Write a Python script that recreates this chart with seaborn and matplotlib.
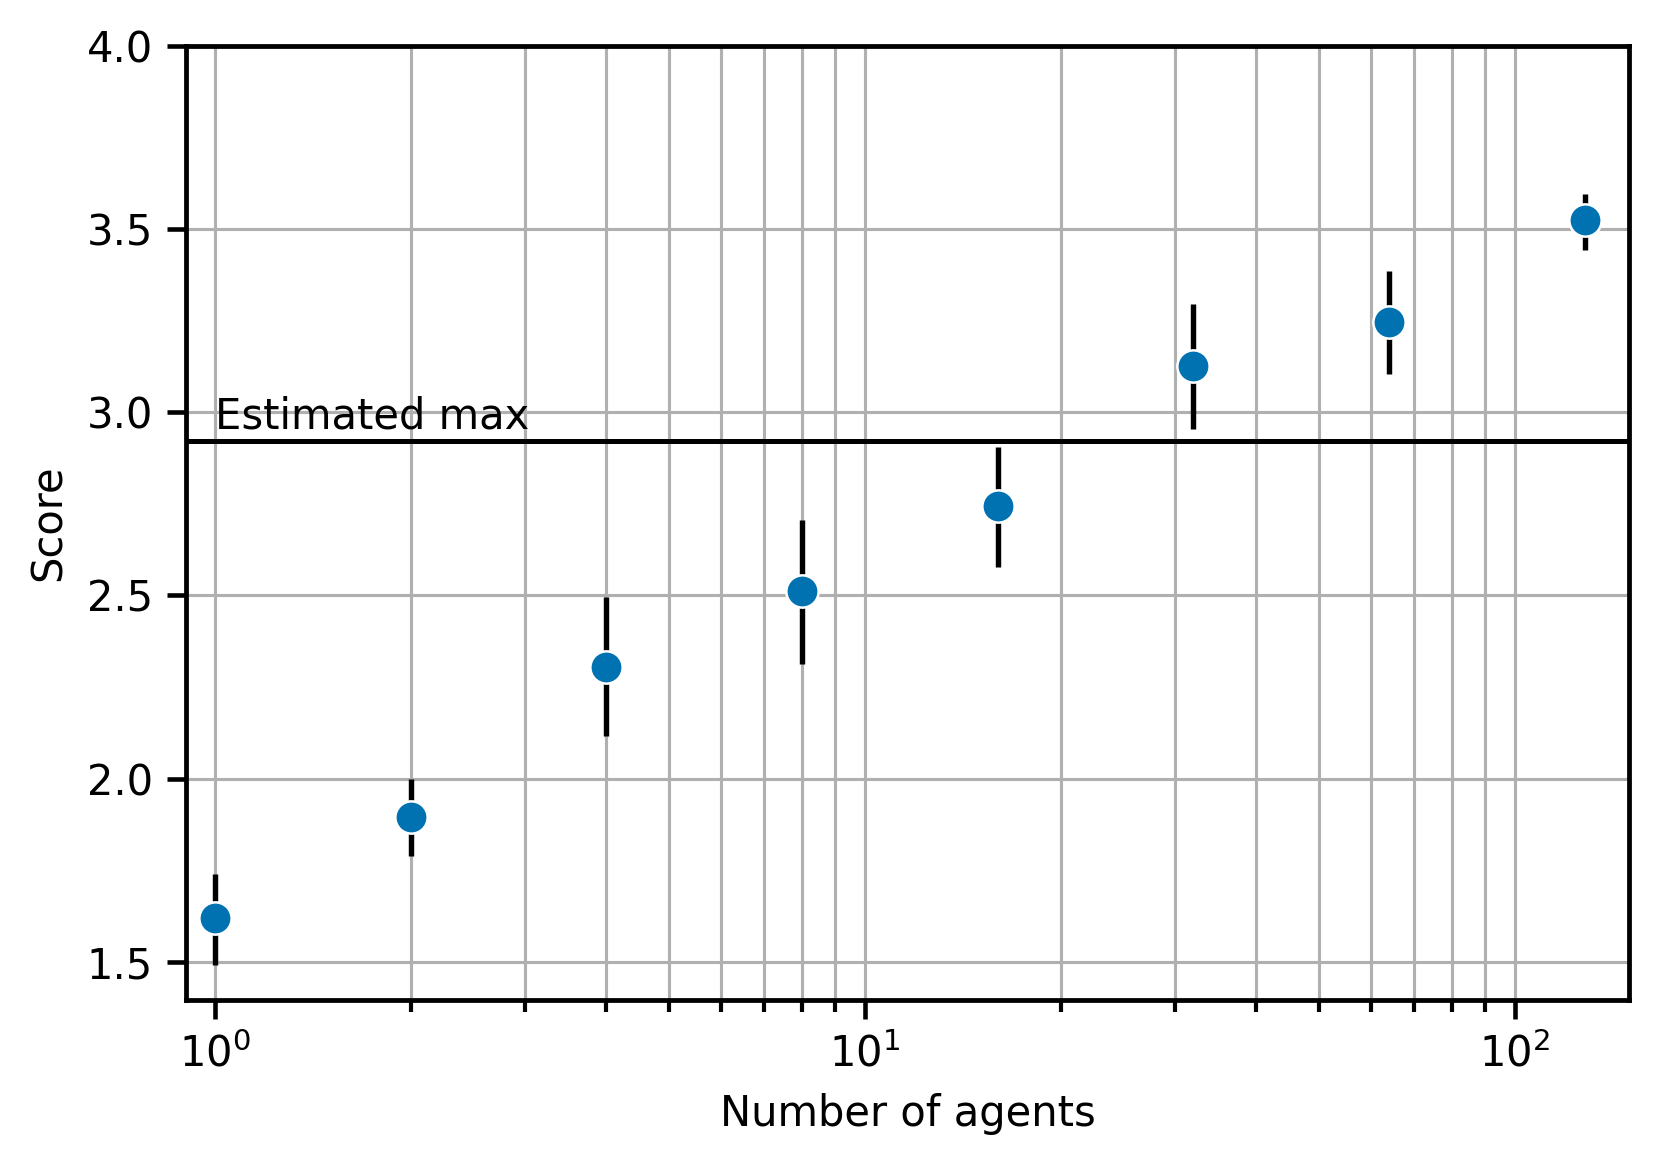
import numpy as np
import matplotlib
matplotlib.use("Agg")
import matplotlib.pyplot as plt
import seaborn as sns
import pandas as pd

# --- datos ---
agentes = [1, 2, 4, 8, 16, 32, 64, 128]
score = [1.619, 1.896, 2.306, 2.512, 2.743, 3.127, 3.246, 3.523]
score_bajo = [1.491, 1.789, 2.116, 2.312, 2.578, 2.954, 3.104, 3.442]
score_alto = [1.740, 2.000, 2.497, 2.705, 2.905, 3.295, 3.384, 3.595]
max_estimado = 2.922

df = pd.DataFrame({"agentes": agentes, "score": score})
err = [np.array(score) - np.array(score_bajo), np.array(score_alto) - np.array(score)]

sns.set_style("ticks")
plt.rcParams["font.family"] = ["DejaVu Sans"]
plt.rcParams["text.color"] = "black"
plt.rcParams["axes.labelcolor"] = "black"
plt.rcParams["xtick.color"] = "black"
plt.rcParams["ytick.color"] = "black"

fig = plt.figure(figsize=(1661 / 300, 1171 / 300), dpi=300)
ax = fig.add_axes([0.112, 0.146, 0.869, 0.815])

ax.errorbar(agentes, score, yerr=err, fmt="none", ecolor="black", elinewidth=1.3, zorder=3)
sns.scatterplot(data=df, x="agentes", y="score", ax=ax, color="#0072B2", s=60,
                edgecolor="white", linewidth=0.6, zorder=4)

ax.axhline(max_estimado, color="black", linewidth=1.2, zorder=2)
ax.text(1.0, max_estimado + 0.01, "Estimated max", fontsize=10, ha="left", va="bottom")

ax.set_xscale("log")
ax.set_xlim(0.903, 150)
ax.set_ylim(1.396, 4.0)
ax.set_yticks([1.5, 2.0, 2.5, 3.0, 3.5, 4.0])

ax.grid(True, which="major", color="#b0b0b0", linewidth=0.75)
ax.grid(True, which="minor", axis="x", color="#b0b0b0", linewidth=0.75)
ax.set_axisbelow(True)

for s in ax.spines.values():
    s.set_visible(True)
    s.set_linewidth(1.15)
    s.set_color("black")

ax.tick_params(axis="both", which="major", labelsize=10, length=4.5, width=1.1, color="black")
ax.tick_params(axis="x", which="minor", length=2.8, width=1.0, color="black")

ax.set_xlabel("Number of agents", fontsize=10)
ax.set_ylabel("Score", fontsize=10)

fig.savefig("out.png", dpi=300)
